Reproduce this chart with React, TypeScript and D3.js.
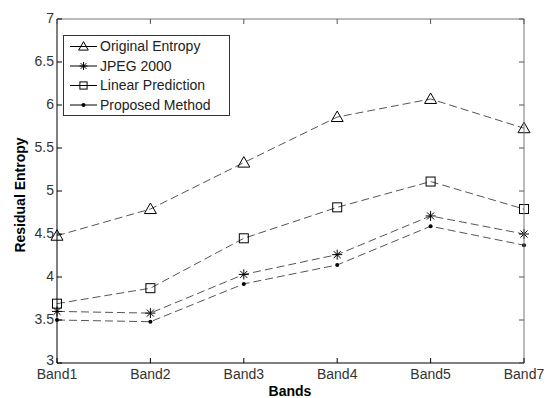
import React from "react";
import * as d3 from "d3";

const categories = ["Band1", "Band2", "Band3", "Band4", "Band5", "Band7"];
const originalEntropy = [4.48, 4.79, 5.33, 5.86, 6.07, 5.73];
const jpeg2000 = [3.6, 3.58, 4.03, 4.26, 4.71, 4.5];
const linearPrediction = [3.69, 3.87, 4.45, 4.81, 5.11, 4.79];
const proposedMethod = [3.5, 3.48, 3.92, 4.14, 4.59, 4.37];
const yTicks = [3, 3.5, 4, 4.5, 5, 5.5, 6, 6.5, 7];
const legendLabels = ["Original Entropy", "JPEG 2000", "Linear Prediction", "Proposed Method"];

const W = 550, H = 398;
const left = 57, right = 524, top = 19, bottom = 363;
const FONT = "Liberation Sans, Arial, Helvetica, sans-serif";

function Marker({ type, x, y, k = 1 }: { type: string; x: number; y: number; k?: number }) {
  if (type === "tri") {
    const s = 6 * k;
    return <path d={`M${x},${y - s} L${x + s},${y + s * 0.75} L${x - s},${y + s * 0.75} Z`} fill="none" stroke="#000" strokeWidth={1} />;
  }
  if (type === "sq") {
    const s = 4.5 * k;
    return <rect x={x - s} y={y - s} width={2 * s} height={2 * s} fill="none" stroke="#000" strokeWidth={1} />;
  }
  if (type === "star") {
    const r = 5 * k;
    const lines = [0, 45, 90, 135].map((a) => {
      const rad = (a * Math.PI) / 180;
      return `M${x - r * Math.cos(rad)},${y - r * Math.sin(rad)} L${x + r * Math.cos(rad)},${y + r * Math.sin(rad)}`;
    });
    return <path d={lines.join(" ")} stroke="#000" strokeWidth={1} fill="none" />;
  }
  return <circle cx={x} cy={y} r={2} fill="#000" />;
}

export default function App() {
  const x = d3.scalePoint<string>().domain(categories).range([left, right]);
  const y = d3.scaleLinear().domain([3, 7]).range([bottom, top]);
  const series = [
    { data: originalEntropy, type: "tri" },
    { data: jpeg2000, type: "star" },
    { data: linearPrediction, type: "sq" },
    { data: proposedMethod, type: "dot" },
  ];
  const line = d3
    .line<number>()
    .x((_, i) => x(categories[i]) as number)
    .y((d) => y(d));

  const legX = 63.5, legY = 35.5, legW = 166, legH = 80;
  const rowY = [46.5, 66, 85.5, 105];

  return (
    <svg width={W} height={H} style={{ position: "absolute", left: 0, top: 0, background: "#fff" }} fontFamily={FONT}>
      <rect x={0} y={0} width={W} height={H} fill="#fff" />
      {series.map((s, si) => (
        <g key={si}>
          <path d={line(s.data) || ""} fill="none" stroke="#555" strokeWidth={1} strokeDasharray="8,4" />
          {s.data.map((v, i) => (
            <Marker key={i} type={s.type} x={x(categories[i]) as number} y={y(v)} />
          ))}
        </g>
      ))}
      <line x1={left} x2={right} y1={top} y2={top} stroke="#777" />
      <line x1={right} x2={right} y1={top} y2={bottom} stroke="#777" />
      <line x1={left} x2={left} y1={top} y2={bottom} stroke="#000" />
      <line x1={left} x2={right} y1={bottom} y2={bottom} stroke="#000" />
      {yTicks.map((t) => (
        <g key={t}>
          <line x1={left} x2={left + 5} y1={y(t)} y2={y(t)} stroke="#000" />
          <line x1={right} x2={right - 5} y1={y(t)} y2={y(t)} stroke="#555" />
          <text x={left - 3} y={y(t) - (t === 3 ? 3 : 1)} dy="0.35em" textAnchor="end" fontSize={14} fill="#333">
            {String(t)}
          </text>
        </g>
      ))}
      {categories.map((c) => (
        <g key={c}>
          <line x1={x(c) as number} x2={x(c) as number} y1={bottom} y2={bottom - 5} stroke="#000" />
          <line x1={x(c) as number} x2={x(c) as number} y1={top} y2={top + 5} stroke="#555" />
          <text x={x(c) as number} y={bottom + 16} textAnchor="middle" fontSize={14} fill="#333">
            {c}
          </text>
        </g>
      ))}
      <text x={290} y={396} textAnchor="middle" fontSize={14} fontWeight="bold">
        Bands
      </text>
      <text transform={`translate(25,195) rotate(-90)`} textAnchor="middle" fontSize={14} fontWeight="bold">
        Residual Entropy
      </text>
      <rect x={legX} y={legY} width={legW} height={legH} fill="#fff" stroke="#333" strokeWidth={1} />
      {series.map((s, i) => (
        <g key={i}>
          <line x1={70} x2={97} y1={rowY[i]} y2={rowY[i]} stroke="#000" />
          <Marker type={s.type} x={83.5} y={rowY[i]} k={0.8} />
          <text x={100} y={rowY[i]} dy="0.35em" fontSize={14} fill="#222">
            {legendLabels[i]}
          </text>
        </g>
      ))}
    </svg>
  );
}
